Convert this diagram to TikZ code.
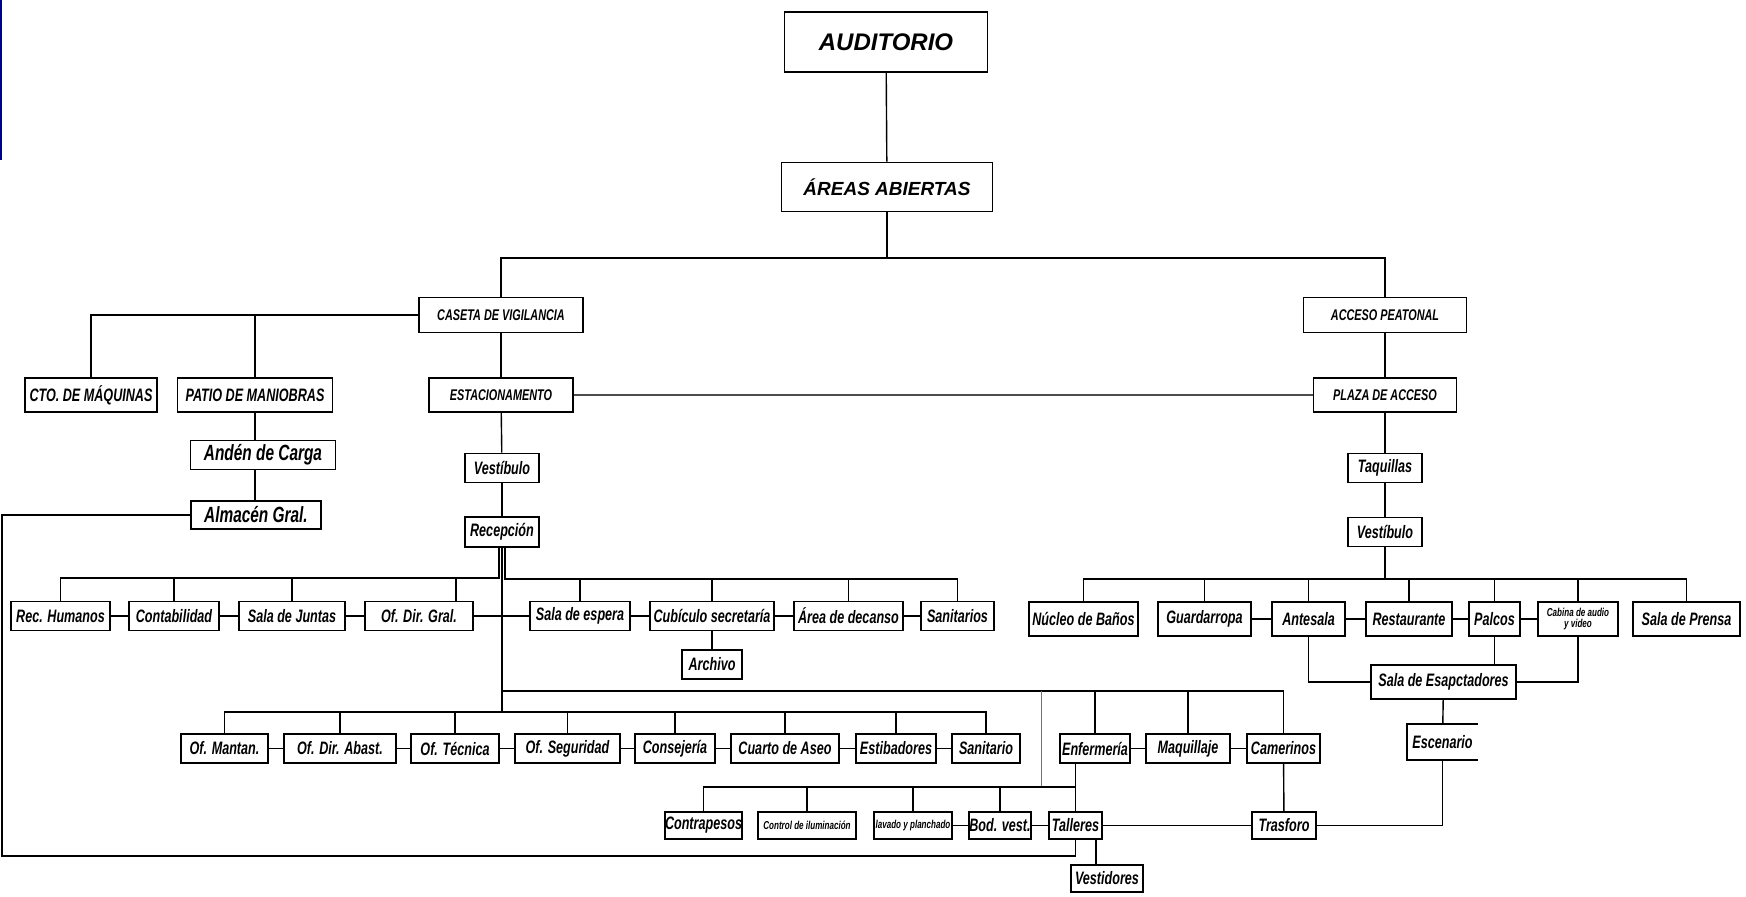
\documentclass[tikz,border=0pt]{standalone}
\usepackage{fontspec}
\setmainfont{Liberation Sans}
\newfontfamily\narrowfont[FakeStretch=0.7]{Liberation Sans}
\newcommand{\titlefont}{\bfseries\itshape\fontsize{24}{26}\selectfont}
\newcommand{\headfont}{\bfseries\itshape\fontsize{19}{21}\selectfont}
\newcommand{\capsfont}{\narrowfont\bfseries\itshape\fontsize{15.5}{17}\selectfont}
\newcommand{\lblfont}{\narrowfont\bfseries\itshape\fontsize{18}{19}\selectfont}
\newcommand{\bigfont}{\narrowfont\bfseries\itshape\fontsize{22}{23}\selectfont}
\newcommand{\smallfont}{\narrowfont\bfseries\itshape\fontsize{11.5}{11}\selectfont}

\begin{document}
\begin{tikzpicture}[
    x=1pt, y=-1pt,
    box/.style={rectangle, draw, line width=1.6pt, inner sep=0pt, align=center, minimum height=29pt, font=\lblfont},
    wd/.style={minimum width=#1pt},
    link/.style={line width=1.4pt},
    faint/.style={line width=1pt, black!55}
]
\useasboundingbox (0,0) rectangle (1746,897);
\draw[line width=2pt, blue!55!black] (1,0) -- (1,160);

% top levels
\node[box, wd=203, minimum height=60pt, font=\titlefont] (aud) at (886,42) {AUDITORIO};
\node[box, wd=211, minimum height=49pt, font=\headfont] (areas) at (887,187) {ÁREAS ABIERTAS};
\node[box, wd=164, minimum height=35pt, font=\capsfont] (caseta) at (501,315) {CASETA DE VIGILANCIA};
\node[box, wd=163, minimum height=35pt, font=\capsfont] (acceso) at (1385,315) {ACCESO PEATONAL};
\node[box, wd=132, minimum height=34pt] (cto) at (91,395) {CTO. DE MÁQUINAS};
\node[box, wd=155, minimum height=34pt] (patio) at (255,395) {PATIO DE MANIOBRAS};
\node[box, wd=144, minimum height=34pt, font=\capsfont] (estac) at (501,395) {ESTACIONAMENTO};
\node[box, wd=143, minimum height=34pt, font=\capsfont] (plaza) at (1385,395) {PLAZA DE ACCESO};
\node[box, wd=145, font=\bigfont] (anden) at (263,455) {Andén de Carga};
\node[box, wd=130, minimum height=28pt, font=\bigfont] (almacen) at (256,515) {Almacén Gral.};
\node[box, wd=74] (vestL) at (502,468) {Vestíbulo};
\node[box, wd=74, minimum height=30pt] (recep) at (502,532) {Recepción};
\node[box, wd=74] (taq) at (1385,468) {Taquillas};
\node[box, wd=74] (vestR) at (1385,532) {Vestíbulo};

% first row
\node[box, wd=99] (rh) at (60.5,616) {Rec. Humanos};
\node[box, wd=90] (cont) at (174,616) {Contabilidad};
\node[box, wd=106] (juntas) at (292,616) {Sala de Juntas};
\node[box, wd=108] (dirgral) at (419,616) {Of. Dir. Gral.};
\node[box, wd=100] (espera) at (580,616) {Sala de espera};
\node[box, wd=124] (cubiculo) at (712,616) {Cubículo secretaría};
\node[box, wd=109] (area) at (848.5,616) {Área de decanso};
\node[box, wd=73] (sanit) at (957.5,616) {Sanitarios};
\node[box, wd=60] (archivo) at (712,664.5) {Archivo};
\node[box, wd=109, minimum height=34pt] (nucleo) at (1083.5,619) {Núcleo de Baños};
\node[box, wd=93, minimum height=34pt] (guard) at (1204.5,619) {Guardarropa};
\node[box, wd=73, minimum height=34pt] (antesala) at (1308.5,619) {Antesala};
\node[box, wd=86, minimum height=34pt] (rest) at (1409,619) {Restaurante};
\node[box, wd=51, minimum height=34pt] (palcos) at (1494.5,619) {Palcos};
\node[box, wd=80, minimum height=34pt, font=\smallfont] (cabina) at (1578,619) {Cabina de audio\\y video};
\node[box, wd=107, minimum height=34pt] (prensa) at (1686.5,619) {Sala de Prensa};
\node[box, wd=145, minimum height=34pt] (salaesp) at (1443.5,682) {Sala de Esapctadores};
\node[box, wd=69, minimum height=34pt, draw=none] (escen) at (1442.5,742) {Escenario};
\draw[line width=1.6pt] (escen.north east) -- (escen.north west) -- (escen.south west) -- (escen.south east);

% second row
\node[box, wd=87] (mant) at (224.5,748.5) {Of. Mantan.};
\node[box, wd=112] (abast) at (340,748.5) {Of. Dir. Abast.};
\node[box, wd=88] (tecnica) at (455,748.5) {Of. Técnica};
\node[box, wd=105] (segur) at (567.5,748.5) {Of. Seguridad};
\node[box, wd=80] (conserj) at (675,748.5) {Consejería};
\node[box, wd=108] (aseo) at (785,748.5) {Cuarto de Aseo};
\node[box, wd=80] (estib) at (896,748.5) {Estibadores};
\node[box, wd=68] (sanitario) at (986,748.5) {Sanitario};
\node[box, wd=70] (enferm) at (1095,748.5) {Enfermería};
\node[box, wd=84] (maquill) at (1188,748.5) {Maquillaje};
\node[box, wd=73] (camer) at (1283.5,748.5) {Camerinos};

% third row
\node[box, wd=77, minimum height=27pt] (contrap) at (703.5,825.5) {Contrapesos};
\node[box, wd=98, minimum height=27pt, font=\smallfont] (ilum) at (807,825.5) {Control de iluminación};
\node[box, wd=78, minimum height=27pt, font=\smallfont] (lavado) at (913,825.5) {lavado y planchado};
\node[box, wd=62, minimum height=27pt] (bod) at (1000,825.5) {Bod. vest.};
\node[box, wd=53, minimum height=27pt] (talleres) at (1075.5,825.5) {Talleres};
\node[box, wd=64, minimum height=27pt] (trasforo) at (1284,825.5) {Trasforo};
\node[box, wd=72, minimum height=27pt] (vestid) at (1107,878.5) {Vestidores};

% buses
\coordinate (busA) at (887,258);
\coordinate (busL) at (499,578);
\coordinate (busR) at (505,579);
\coordinate (busCam) at (502,691);
\coordinate (busLow) at (502,712);
\coordinate (busBot) at (1076,787);
\coordinate (busV) at (1385,579);
\coordinate (faintTop) at (1041,691);
\coordinate (cornerA) at (2,856);

\draw[link] (aud) -- (areas);
\draw[link] (areas) -- (busA);
\draw[link] (caseta) |- (busA) -| (acceso);
\draw[link] (caseta) -| (cto);
\draw[link] (patio) -- (patio |- caseta);
\draw[link] (caseta) -- (estac);
\draw[link] (acceso) -- (plaza);
\draw[line width=1.2pt, black!70] (estac) -- (plaza);
\draw[link] (patio.south) -- (patio.south |- anden.north);
\draw[link] (anden.south -| patio) -- (almacen.north -| patio);
\draw[link] (almacen) -| (cornerA) -| (talleres);
\draw[link] (estac) -- (vestL);
\draw[link] (vestL) -- (recep);
\draw[link] (plaza) -- (taq);
\draw[link] (taq) -- (vestR);

\draw[link] ([xshift=-3pt]recep.south) -- (busL) -| (rh);
\foreach \n in {cont,juntas}
    \draw[link] (\n) -- (\n |- busL);
\draw[link] ([xshift=37pt]dirgral.north) -- ([xshift=37pt]dirgral.north |- busL);
\draw[link] ([xshift=3pt]recep.south) -- (busR) -| (sanit);
\foreach \n in {espera,cubiculo,area}
    \draw[link] (\n) -- (\n |- busR);
\draw[link] (rh) -- (cont) -- (juntas) -- (dirgral) -- (espera) -- (cubiculo) -- (area) -- (sanit);
\draw[link] (cubiculo) -- (archivo);

\draw[link] (recep) -- (busLow);
\draw[link] (mant) |- (busLow) -| (sanitario);
\foreach \n in {abast,tecnica,segur,conserj,aseo,estib}
    \draw[link] (\n) -- (\n |- busLow);
\draw[link] (mant) -- (abast) -- (tecnica) -- (segur) -- (conserj) -- (aseo) -- (estib) -- (sanitario);
\draw[link] (busCam) -| (camer);
\foreach \n in {enferm,maquill}
    \draw[link] (\n) -- (\n |- busCam);
\draw[link] (enferm) -- (maquill) -- (camer);
\draw[faint] (faintTop) -- (faintTop |- busBot);

\draw[link] (contrap) |- (busBot);
\foreach \n in {ilum,lavado,bod}
    \draw[link] (\n) -- (\n |- busBot);
\draw[link] (enferm.south -| talleres) -- (talleres);
\draw[link] (lavado) -- (bod) -- (talleres) -- (trasforo);
\draw[link] ([xshift=-11pt]vestid.north) -- ([xshift=-11pt]vestid.north |- talleres.south);
\draw[link] (camer) -- (trasforo);
\draw[link] (trasforo) -| (escen);

\draw[link] (vestR) -- (busV);
\draw[link] (nucleo) |- (busV) -| (prensa);
\foreach \n in {guard,antesala,rest,palcos,cabina}
    \draw[link] (\n) -- (\n |- busV);
\draw[link] (guard) -- (antesala) -- (rest) -- (palcos) -- (cabina);
\draw[link] (antesala) |- (salaesp);
\draw[link] (cabina) |- (salaesp);
\draw[link] (palcos) -- (palcos |- salaesp.north);
\draw[link] (salaesp) -- (escen);
\end{tikzpicture}
\end{document}
